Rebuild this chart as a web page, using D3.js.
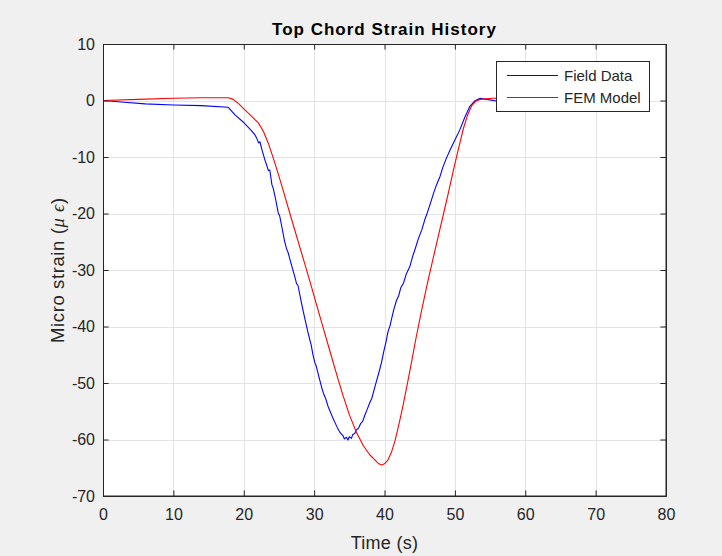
<!DOCTYPE html>
<html>
<head>
<meta charset="utf-8">
<script src="https://d3js.org/d3.v7.min.js"></script>
<style>
	body{margin:0;background:#f0f0f0;}
	svg{display:block;}
	text{font-family:"Liberation Sans",Arial,Helvetica,sans-serif;fill:#262626;}
</style>
</head>
<body>
<svg width="722" height="556"></svg>
<script>
// values
var fieldTime = [0,3,6,10,14,17.8,18.8,20,21,21.6,21.9,22.1,22.3,22.6,23,23.3,23.5,23.7,24,24.2,24.5,24.9,25.1,25.4,25.8,26.1,26.3,26.8,27.3,27.5,27.7,28.2,28.5,28.9,29.1,29.6,29.8,30.1,30.3,30.6,31.1,31.4,31.6,32,32.4,32.7,33,33.3,33.6,33.9,34.1,34.3,34.6,34.8,35,35.3,35.5,35.8,36,36.3,36.6,36.9,37.2,37.5,37.9,38.2,38.5,38.9,39.3,39.6,39.9,40.2,40.5,40.8,41,41.3,41.7,42,42.3,42.7,43.1,43.6,44,44.4,44.8,45.3,45.7,46.1,46.5,47,47.4,47.9,48.3,48.8,49.3,50,50.7,51.4,52.1,52.8,53.6,54.5,55.9,57,58];
var fieldStrain = [0,-0.3,-0.6,-0.8,-0.9,-1.2,-2.6,-3.9,-5.2,-6.1,-6.8,-7.5,-7.3,-8.8,-10.5,-11.6,-12.4,-12.3,-14.9,-15.6,-17.3,-19.9,-20.4,-22.3,-24.9,-26.3,-26.9,-29.2,-31.4,-32.4,-32.7,-35.8,-37.6,-39.8,-40.9,-43.4,-44.8,-46.4,-47,-48.5,-50.9,-52.1,-52.6,-54.2,-55.4,-56.3,-57.1,-57.9,-58.6,-59.1,-59.3,-59.9,-59.6,-60.1,-59.5,-59.8,-59.1,-58.9,-58.3,-58,-57.2,-56.8,-55.7,-54.8,-53.5,-52.7,-51.3,-49.5,-47.7,-46.2,-44.4,-42.8,-40.9,-39.8,-38.7,-37.1,-35.4,-34.6,-33.2,-32.3,-30.7,-29.4,-27.6,-26.1,-24.5,-22.9,-21.2,-19.8,-18.3,-16.3,-14.9,-13.4,-11.8,-10.2,-8.8,-7,-5.2,-3,-1.1,-0.1,0.4,0.2,-0.1,0.1,0];
var femTime = [0,5,10,14,17.8,18.5,19.3,20.2,21.2,22.1,22.8,23.5,24.2,24.9,25.6,26.3,27.1,28,28.6,29.7,30.4,31.3,32.3,33.4,34.1,35,36,37,37.9,38.7,39.2,39.6,40,40.5,41,41.5,42,42.6,43.3,43.9,44.5,45.2,46,46.9,47.7,48.4,49.1,49.8,50.5,51.2,51.8,52.4,53,53.6,55.4,58];
var femStrain = [0,0.2,0.4,0.5,0.5,0.2,-0.6,-1.7,-2.9,-4,-5.5,-7.6,-10.2,-13,-15.9,-18.9,-22.3,-26.1,-28.6,-33.3,-36.4,-40.3,-44.6,-49.3,-52.2,-55.6,-58.7,-61.1,-62.7,-63.7,-64.3,-64.5,-64.3,-63.6,-62.2,-60.2,-57.6,-54.2,-49.8,-45.9,-41.9,-37.6,-32.9,-28,-23.7,-20,-16.2,-12.3,-8.6,-5,-2.6,-0.9,-0.1,0.2,0.4,0.4];
var xTicks = [0,10,20,30,40,50,60,70,80];
var yTicks = [-70,-60,-50,-40,-30,-20,-10,0,10];
var seriesNames = ["Field Data","FEM Model"];
var seriesColors = ["#0000ff","#ff0000"];

var svg = d3.select("svg"),
	margin = {top: 44, right: 56, bottom: 60, left: 103},
	width = +svg.attr("width") - margin.left - margin.right,
	height = +svg.attr("height") - margin.top - margin.bottom,
	g = svg.append("g").attr("transform", "translate(" + margin.left + "," + margin.top + ")");

var x = d3.scaleLinear().domain([0, 80]).range([0, width]);
var y = d3.scaleLinear().domain([-70, 10]).range([height, 0]);

g.append("rect")
	.attr("width", width)
	.attr("height", height)
	.attr("fill", "#fff");

// grid
g.selectAll(".gx").data(xTicks).enter().append("line")
	.attr("x1", function(d){ return Math.round(x(d)) + 0.5; })
	.attr("x2", function(d){ return Math.round(x(d)) + 0.5; })
	.attr("y1", 0).attr("y2", height)
	.attr("stroke", "#e3e3e3");
g.selectAll(".gy").data(yTicks).enter().append("line")
	.attr("y1", function(d){ return Math.round(y(d)) + 0.5; })
	.attr("y2", function(d){ return Math.round(y(d)) + 0.5; })
	.attr("x1", 0).attr("x2", width)
	.attr("stroke", "#e3e3e3");

// data
var line = d3.line()
	.x(function(d){ return x(d[0]); })
	.y(function(d){ return y(d[1]); });

g.append("path")
	.datum(d3.zip(fieldTime, fieldStrain))
	.attr("fill", "none")
	.attr("stroke", seriesColors[0])
	.attr("stroke-width", 1.1)
	.attr("stroke-linejoin", "round")
	.attr("d", line);

g.append("path")
	.datum(d3.zip(femTime, femStrain))
	.attr("fill", "none")
	.attr("stroke", seriesColors[1])
	.attr("stroke-width", 1.1)
	.attr("stroke-linejoin", "round")
	.attr("d", line);

// axes, ticks pointing inward on all four sides
var plain = function(d){ return String(d); };
function styleAxis(sel){
	sel.selectAll("path,line").attr("stroke", "#262626");
	sel.selectAll("text").attr("fill", "#262626").style("font-size", "16px").attr("font-family", null);
}
g.append("g")
	.attr("transform", "translate(0," + height + ")")
	.call(d3.axisBottom(x).tickValues(xTicks).tickFormat(plain).tickSizeInner(-5.6).tickSizeOuter(0).tickPadding(13))
	.call(styleAxis);
g.append("g")
	.call(d3.axisLeft(y).tickValues(yTicks).tickFormat(plain).tickSizeInner(-5.6).tickSizeOuter(0).tickPadding(8))
	.call(styleAxis);
g.append("g")
	.call(d3.axisTop(x).tickValues(xTicks).tickSizeInner(-5.6).tickSizeOuter(0).tickFormat(""))
	.call(styleAxis);
g.append("g")
	.attr("transform", "translate(" + width + ",0)")
	.call(d3.axisRight(y).tickValues(yTicks).tickSizeInner(-5.6).tickSizeOuter(0).tickFormat(""))
	.call(styleAxis);

g.append("rect")
	.attr("x", 0.5).attr("y", 0.5)
	.attr("width", width - 0.5)
	.attr("height", height - 0.5)
	.attr("fill", "none")
	.attr("stroke", "#262626");

// title and labels
svg.append("text")
	.attr("x", margin.left + width / 2)
	.attr("y", 35)
	.attr("text-anchor", "middle")
	.style("font-size", "17px")
	.style("font-weight", "bold")
	.style("letter-spacing", "1px")
	.style("fill", "#000")
	.text("Top Chord Strain History");

svg.append("text")
	.attr("x", margin.left + width / 2)
	.attr("y", 549)
	.attr("text-anchor", "middle")
	.style("font-size", "18px")
	.style("letter-spacing", "0.3px")
	.text("Time (s)");

var yl = svg.append("text")
	.attr("transform", "translate(64," + (margin.top + height / 2) + ") rotate(-90)")
	.attr("text-anchor", "middle")
	.style("font-size", "18.5px")
	.style("letter-spacing", "0.6px");
yl.append("tspan").text("Micro strain (");
yl.append("tspan").style("font-family", "'Liberation Serif','DejaVu Serif',serif").style("font-style", "italic").text("\u03bc");
yl.append("tspan").text(" ");
yl.append("tspan").style("font-family", "'Liberation Serif','DejaVu Serif',serif").style("font-style", "italic").text("\u03f5");
yl.append("tspan").text(")");

// legend
var leg = svg.append("g").attr("transform", "translate(496.5,61.5)");
leg.append("rect")
	.attr("width", 153)
	.attr("height", 50)
	.attr("fill", "#fff")
	.attr("stroke", "#262626");
seriesNames.forEach(function(name, i){
	var ry = 14 + i * 22;
	leg.append("line")
		.attr("x1", 10.5).attr("x2", 61.5)
		.attr("y1", ry).attr("y2", ry)
		.attr("stroke", seriesColors[i]);
	leg.append("text")
		.attr("x", 67.5)
		.attr("y", ry + 5.5)
		.style("font-size", "15px")
		.text(name);
});
</script>
</body>
</html>
